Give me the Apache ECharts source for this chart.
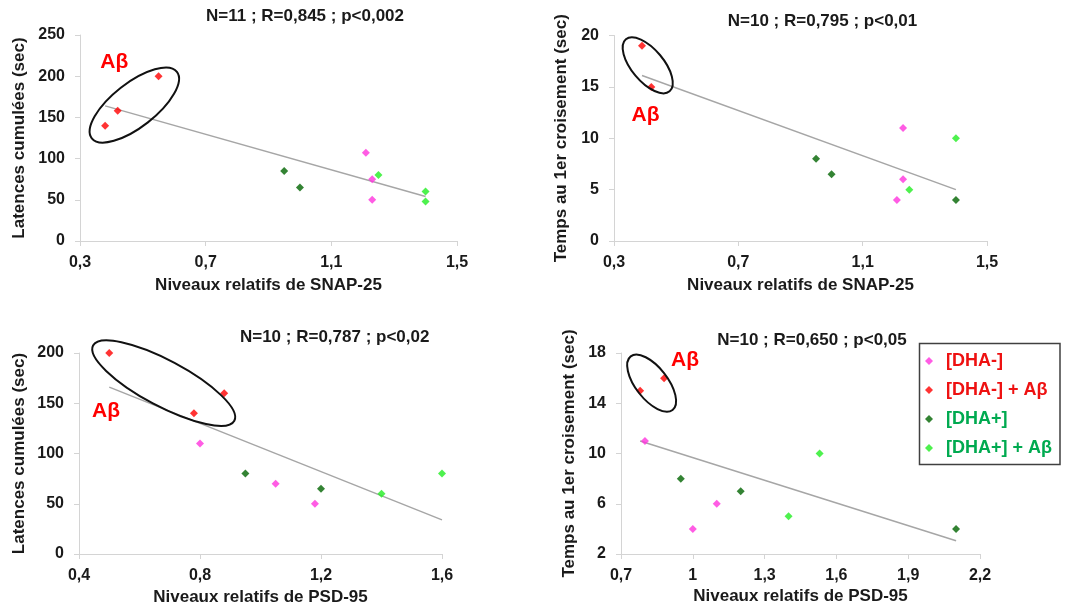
<!DOCTYPE html>
<html>
<head>
<meta charset="utf-8">
<script src="https://cdn.jsdelivr.net/npm/echarts@6/dist/echarts.min.js"></script>
<style>html,body{margin:0;padding:0;background:#fff}#c{width:1070px;height:608px}</style>
</head>
<body>
<div id="c"></div>
<script>
// ---------- DATA ----------
const groupNames = ['[DHA-]', '[DHA-] + Aβ', '[DHA+]', '[DHA+] + Aβ'];

// Panel 1 : SNAP-25 vs latences cumulées
const p1_dhaMinus   = [[1.21,107],[1.23,75],[1.23,50]];
const p1_dhaMinusAb = [[0.38,140],[0.42,158],[0.55,200]];
const p1_dhaPlus    = [[0.95,85],[1.00,65]];
const p1_dhaPlusAb  = [[1.25,80],[1.40,60],[1.40,48]];
const p1_trend      = [[0.38,164],[1.40,54]];

// Panel 2 : SNAP-25 vs temps au 1er croisement
const p2_dhaMinus   = [[1.23,11],[1.23,6],[1.21,4]];
const p2_dhaMinusAb = [[0.39,19],[0.42,15]];
const p2_dhaPlus    = [[0.95,8],[1.00,6.5],[1.40,4]];
const p2_dhaPlusAb  = [[1.25,5],[1.40,10]];
const p2_trend      = [[0.39,16.1],[1.40,5]];

// Panel 3 : PSD-95 vs latences cumulées
const p3_dhaMinus   = [[0.80,110],[1.05,70],[1.18,50]];
const p3_dhaMinusAb = [[0.50,200],[0.78,140],[0.88,160]];
const p3_dhaPlus    = [[0.95,80],[1.20,65]];
const p3_dhaPlusAb  = [[1.40,60],[1.60,80]];
const p3_trend      = [[0.50,166],[1.60,34]];

// Panel 4 : PSD-95 vs temps au 1er croisement
const p4_dhaMinus   = [[0.80,11],[1.00,4],[1.10,6]];
const p4_dhaMinusAb = [[0.78,15],[0.88,16]];
const p4_dhaPlus    = [[0.95,8],[1.20,7],[2.10,4]];
const p4_dhaPlusAb  = [[1.53,10],[1.40,5]];
const p4_trend      = [[0.78,11],[2.10,3.05]];

// Tick labels
const p1_xTicks = [0.3,0.7,1.1,1.5];  const p1_yTicks = [0,50,100,150,200,250];
const p2_xTicks = [0.3,0.7,1.1,1.5];  const p2_yTicks = [0,5,10,15,20];
const p3_xTicks = [0.4,0.8,1.2,1.6];  const p3_yTicks = [0,50,100,150,200];
const p4_xTicks = [0.7,1.0,1.3,1.6,1.9,2.2]; const p4_yTicks = [2,6,10,14,18];

const titles = ['N=11 ; R=0,845 ; p<0,002','N=10 ; R=0,795 ; p<0,01','N=10 ; R=0,787 ; p<0,02','N=10 ; R=0,650 ; p<0,05'];
const xNames = ['Niveaux relatifs de SNAP-25','Niveaux relatifs de SNAP-25','Niveaux relatifs de PSD-95','Niveaux relatifs de PSD-95'];
const yNames = ['Latences cumulées (sec)','Temps au 1er croisement (sec)','Latences cumulées (sec)','Temps au 1er croisement (sec)'];

// ---------- LAYOUT / STYLE ----------
const FONT = '"Liberation Sans", Arial, sans-serif';
const TXT = '#1a1a1a';
const colors = ['#ff33dd', '#ff0000', '#006400', '#22ee22'];
const grids = [
  {left:80,  top:35,  width:377, height:206},
  {left:614, top:35.5,width:373, height:205.5},
  {left:79,  top:353, width:363, height:201},
  {left:621, top:353, width:359, height:201}
];
const xNameGap = [36, 36, 35, 34];
const yNameGap = [52, 44, 51, 43];
const panels = [
  {g:[p1_dhaMinus,p1_dhaMinusAb,p1_dhaPlus,p1_dhaPlusAb], t:p1_trend, xt:p1_xTicks, yt:p1_yTicks},
  {g:[p2_dhaMinus,p2_dhaMinusAb,p2_dhaPlus,p2_dhaPlusAb], t:p2_trend, xt:p2_xTicks, yt:p2_yTicks},
  {g:[p3_dhaMinus,p3_dhaMinusAb,p3_dhaPlus,p3_dhaPlusAb], t:p3_trend, xt:p3_xTicks, yt:p3_yTicks},
  {g:[p4_dhaMinus,p4_dhaMinusAb,p4_dhaPlus,p4_dhaPlusAb], t:p4_trend, xt:p4_xTicks, yt:p4_yTicks}
];
const fmt = v => String(+v.toFixed(2)).replace('.', ',');

const xAxis = [], yAxis = [], series = [];
panels.forEach((p, i) => {
  const axisCommon = {
    axisLine:{show:true, onZero:false, lineStyle:{color:'#d4d4d4', width:1}},
    axisTick:{show:true, length:5, lineStyle:{color:'#d4d4d4'}},
    splitLine:{show:false},
    nameLocation:'middle',
    nameTextStyle:{color:TXT, fontSize:17, fontWeight:'bold', fontFamily:FONT}
  };
  xAxis.push(Object.assign({}, axisCommon, {
    type:'value', gridIndex:i, min:p.xt[0], max:p.xt[p.xt.length-1],
    name:xNames[i], nameGap:xNameGap[i],
    axisTick:Object.assign({}, axisCommon.axisTick, {customValues:p.xt}),
    axisLabel:{customValues:p.xt, formatter:fmt, color:TXT, fontSize:16, fontWeight:'bold', fontFamily:FONT, margin:14}
  }));
  yAxis.push(Object.assign({}, axisCommon, {
    type:'value', gridIndex:i, min:p.yt[0], max:p.yt[p.yt.length-1],
    name:yNames[i], nameGap:yNameGap[i],
    axisTick:Object.assign({}, axisCommon.axisTick, {customValues:p.yt}),
    axisLabel:{customValues:p.yt, formatter:fmt, color:TXT, fontSize:16, fontWeight:'bold', fontFamily:FONT, margin:15}
  }));
  series.push({
    type:'line', xAxisIndex:i, yAxisIndex:i, data:p.t, symbol:'none', silent:true, z:1,
    lineStyle:{color:'#a6a6a6', width:1.5}
  });
  p.g.forEach((d, k) => {
    series.push({
      type:'scatter', name:groupNames[k], xAxisIndex:i, yAxisIndex:i, data:d,
      symbol:'diamond', symbolSize:8, z:3, itemStyle:{color:colors[k]}
    });
  });
});

const chart = echarts.init(document.getElementById('c'), null, {renderer:'canvas'});
chart.setOption({
  animation:false,
  textStyle:{fontFamily:FONT},
  grid:grids,
  xAxis, yAxis, series,
  legend:{
    orient:'vertical', left:925, top:352, padding:0, itemGap:11,
    itemWidth:8, itemHeight:8, icon:'diamond',
    textStyle:{fontSize:18, fontWeight:'bold', fontFamily:FONT, padding:[0,0,0,8]},
    data:[
      {name:groupNames[0], textStyle:{color:'#ee1111'}},
      {name:groupNames[1], textStyle:{color:'#ee1111'}},
      {name:groupNames[2], textStyle:{color:'#00aa50'}},
      {name:groupNames[3], textStyle:{color:'#00aa50'}}
    ]
  }
});

// ---------- ANNOTATIONS ----------
const titlePos = [[305,16],[822.5,21.7],[334.7,337.3],[812,340.7]];
// ellipse: center in data coords, semi-axes px, rotation deg (ccw)
const ellipses = [
  {c:[0.473,165], rx:54, ry:22, rot:38},
  {c:[0.4085,17.1], rx:34, ry:16, rot:-50},
  {c:[0.68,170], rx:80, ry:23, rot:-28},
  {c:[0.828,15.6], rx:34, ry:16, rot:-52}
];
const abPos = [[114.3,62.5],[645.5,115],[106,411],[685,360]];
const graphic = [];
titles.forEach((t, i) => graphic.push({
  type:'text', x:titlePos[i][0], y:titlePos[i][1],
  style:{text:t, fill:TXT, font:'bold 17px ' + FONT, textAlign:'center', textVerticalAlign:'middle'}
}));
ellipses.forEach((e, i) => {
  const px = chart.convertToPixel({gridIndex:i}, e.c);
  graphic.push({
    type:'ellipse', x:px[0], y:px[1], rotation:e.rot*Math.PI/180,
    shape:{cx:0, cy:0, rx:e.rx, ry:e.ry},
    style:{fill:'none', stroke:'#111', lineWidth:2}, z:5
  });
});
abPos.forEach(p => graphic.push({
  type:'text', x:p[0], y:p[1],
  style:{text:'Aβ', fill:'#ff0000', font:'bold 21px ' + FONT, textAlign:'center', textVerticalAlign:'middle'}
}));
graphic.push({
  type:'rect', shape:{x:919.5, y:343.5, width:140.5, height:121},
  style:{fill:'none', stroke:'#404040', lineWidth:1.5}, z:5
});
chart.setOption({graphic});
</script>
</body>
</html>
